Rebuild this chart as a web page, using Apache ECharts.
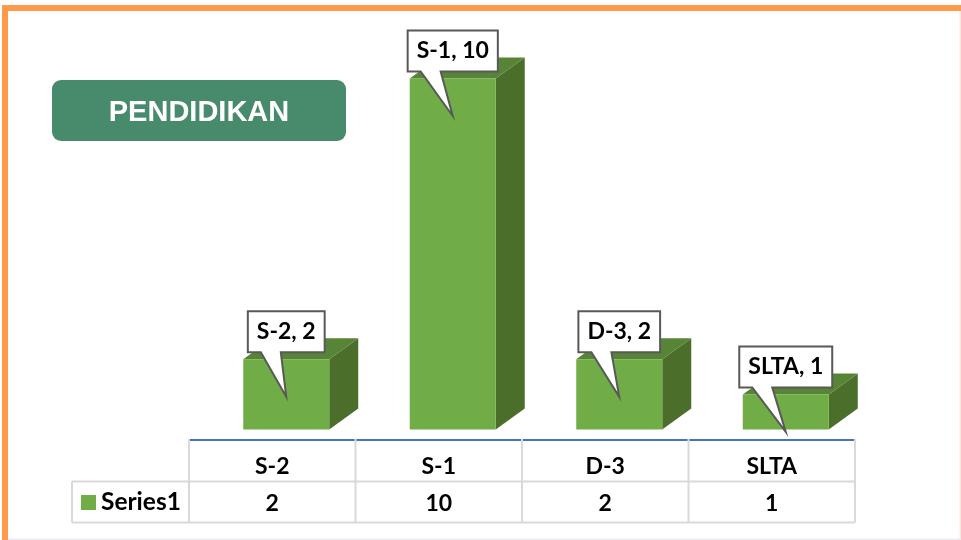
<!DOCTYPE html>
<html>
<head>
<meta charset="utf-8">
<title>Pendidikan</title>
<script src="https://cdn.jsdelivr.net/npm/echarts@6/dist/echarts.min.js"></script>
<style>
  html, body { margin: 0; padding: 0; background: #fff; }
  #chart { width: 961px; height: 540px; }
</style>
</head>
<body>
<div id="chart"></div>
<script>
const categories = ['S-2', 'S-1', 'D-3', 'SLTA'];
const values = [2, 10, 2, 1];
const seriesName = 'Series1';
const titleText = 'PENDIDIKAN';

const GRID_LEFT = 189;
const GRID_W = 666;
const GRID_TOP = 78.5;
const GRID_H = 351;
const AXIS_Y = 439;
const ROW_1 = 481.5;
const ROW_2 = 522.5;
const FONT = 'Lato, "Open Sans", sans-serif';
const FONT_SIZE = 23;

const ctx = document.createElement('canvas').getContext('2d');
ctx.font = 'bold ' + FONT_SIZE + 'px Lato';

function renderBar(params, api) {
  const i = api.value(0);
  const v = api.value(1);
  const top = api.coord([i, v]);
  const base = api.coord([i, 0]);
  const w = api.size([1, 0])[0] * 0.5165;
  const cx = top[0] + 14;
  const x0 = cx - w / 2;
  const x1 = cx + w / 2;
  const y0 = top[1];
  const y1 = base[1];
  const dx = 29;
  const dy = 21;

  // callout box sits above the bar, tail points into the front face
  const label = categories[i] + ', ' + v;
  const boxW = ctx.measureText(label).width + 18;
  const bl = cx - boxW / 2;
  const br = cx + boxW / 2;
  const bt = y0 - 48;
  const bb = y0 - 7;
  const tip = [cx, y0 + 37.5];

  return {
    type: 'group',
    children: [
      { type: 'polygon', shape: { points: [[x1, y0], [x1 + dx, y0 - dy], [x1 + dx, y1 - dy], [x1, y1]] },
        style: { fill: '#4b6f2b' } },
      { type: 'polygon', shape: { points: [[x0, y0], [x0 + dx, y0 - dy], [x1 + dx, y0 - dy], [x1, y0]] },
        style: { fill: '#578436' } },
      { type: 'rect', shape: { x: x0, y: y0, width: w, height: y1 - y0 },
        style: { fill: '#70ad47' } },
      { type: 'polygon',
        shape: { points: [[bl, bt], [br, bt], [br, bb], [bl + 33, bb], tip, [bl + 13, bb], [bl, bb]] },
        style: { fill: '#fff', stroke: '#595959', lineWidth: 2 } },
      { type: 'text', x: cx, y: (bt + bb) / 2,
        style: { text: label, fill: '#000', font: 'bold ' + FONT_SIZE + 'px ' + FONT, align: 'center', verticalAlign: 'middle' } }
    ]
  };
}

// table lines under the axis
const colW = GRID_W / categories.length;
const tableLines = [];
for (let i = 0; i <= categories.length; i++) {
  const x = GRID_LEFT + colW * i;
  tableLines.push([x, AXIS_Y, x, ROW_2]);
}
tableLines.push([72, ROW_1, GRID_LEFT + GRID_W, ROW_1]);
tableLines.push([72, ROW_2, GRID_LEFT + GRID_W, ROW_2]);
tableLines.push([72, ROW_1, 72, ROW_2]);

const chart = echarts.init(document.getElementById('chart'), null, { renderer: 'canvas' });

chart.setOption({
  animation: false,
  backgroundColor: '#fff',
  grid: { left: GRID_LEFT, width: GRID_W, top: GRID_TOP, height: GRID_H },
  legend: {
    left: 81, top: 490, padding: 0,
    icon: 'rect', itemWidth: 15, itemHeight: 15, itemGap: 6,
    data: [seriesName],
    textStyle: { color: '#000', fontWeight: 'bold', fontSize: 24.5, fontFamily: FONT }
  },
  xAxis: [
    {
      type: 'category', data: categories, offset: 10,
      axisLine: { onZero: false, lineStyle: { color: '#4472c4', width: 2 } },
      axisTick: { show: false },
      axisLabel: { margin: 16, color: '#000', fontWeight: 'bold', fontSize: FONT_SIZE, fontFamily: FONT }
    },
    {
      type: 'category', data: values.map(String), position: 'bottom', offset: 10,
      axisLine: { show: false, onZero: false },
      axisTick: { show: false },
      axisLabel: { margin: 52.5, color: '#000', fontWeight: 'bold', fontSize: FONT_SIZE, fontFamily: FONT }
    }
  ],
  yAxis: { type: 'value', min: 0, max: 10, show: false, splitLine: { show: false } },
  series: [{
    name: seriesName,
    type: 'custom',
    renderItem: renderBar,
    itemStyle: { color: '#70ad47' },
    encode: { x: 0, y: 1 },
    clip: false,
    z: 5,
    data: values.map((v, i) => [i, v])
  }],
  graphic: [
    // slide frame
    { type: 'rect', shape: { x: 2, y: 5, width: 959, height: 6 }, style: { fill: '#ff9a4b' } },
    { type: 'rect', shape: { x: 2, y: 5, width: 6, height: 535 }, style: { fill: '#ff9a4b' } },
    { type: 'rect', shape: { x: 959.5, y: 11, width: 1.5, height: 529 }, style: { fill: '#fde6d5' } },
    { type: 'rect', shape: { x: 8, y: 538.5, width: 953, height: 1.5 }, style: { fill: '#ecebf5' } },
    // title badge
    { type: 'rect', shape: { x: 52, y: 80, width: 294, height: 61, r: 9 }, style: { fill: '#478a6c' } },
    { type: 'text', x: 199, y: 112.5,
      style: { text: titleText, fill: '#fff', font: 'bold 29px "Liberation Sans", sans-serif', align: 'center', verticalAlign: 'middle' } }
  ].concat(tableLines.map(l => ({
    type: 'line', z: 1,
    shape: { x1: l[0], y1: l[1], x2: l[2], y2: l[3] },
    style: { stroke: '#d9d9d9', lineWidth: 2 }
  })))
});
</script>
</body>
</html>
